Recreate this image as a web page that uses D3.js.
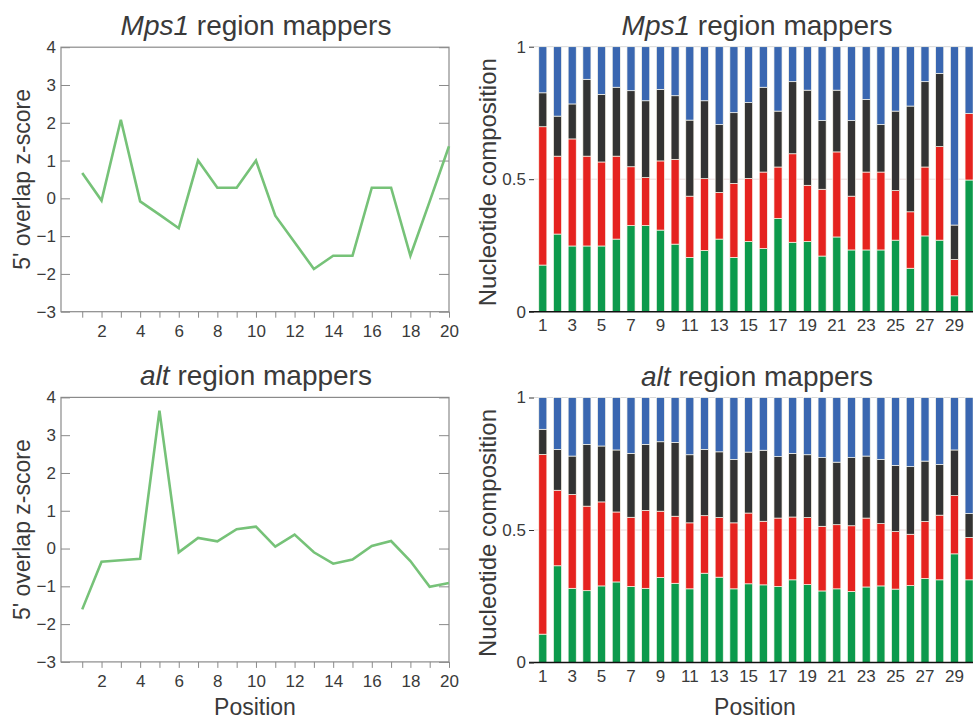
<!DOCTYPE html>
<html>
<head>
<meta charset="utf-8">
<script src="https://cdn.jsdelivr.net/npm/d3@7"></script>
<style>
  html, body { margin: 0; padding: 0; background: #fff; overflow: hidden; }
  svg text { font-family: "Liberation Sans", Arial, sans-serif; fill: #3a3a3a; }
</style>
</head>
<body>
<div id="d3Container"></div>
<script>
// positions along the read (line charts)
const linePositions = [1, 2, 3, 4, 5, 6, 7, 8, 9, 10, 11, 12, 13, 14, 15, 16, 17, 18, 19, 20]
const mps1Zscore = [0.67, -0.06, 2.08, -0.08, -0.43, -0.79, 1.0, 0.28, 0.28, 1.0, -0.46, -1.16, -1.87, -1.52, -1.52, 0.28, 0.28, -1.52, -0.08, 1.38]
const altZscore = [-1.61, -0.35, -0.31, -0.27, 3.65, -0.10, 0.28, 0.19, 0.51, 0.58, 0.05, 0.37, -0.10, -0.40, -0.29, 0.07, 0.20, -0.33, -1.01, -0.91]
const zTicks = [-3, -2, -1, 0, 1, 2, 3, 4]

// positions for nucleotide composition bars
const barPositions = [1, 2, 3, 4, 5, 6, 7, 8, 9, 10, 11, 12, 13, 14, 15, 16, 17, 18, 19, 20, 21, 22, 23, 24, 25, 26, 27, 28, 29, 30]
const barLabels = [1, 3, 5, 7, 9, 11, 13, 15, 17, 19, 21, 23, 25, 27, 29]
const compTicks = [0, 0.5, 1]
const nucleotides = ['A', 'U', 'G', 'C']
const nucColors = {A: '#0c9a4c', U: '#e5231f', G: '#333333', C: '#3a67b1'}

// Mps1 region mappers, fraction of each nucleotide
const mps1A = [.176, .293, .248, .248, .248, .274, .325, .325, .308, .255, .205, .231, .274, .205, .265, .238, .352, .262, .265, .210, .282, .233, .233, .233, .270, .164, .286, .270, .060, .497]
const mps1U = [.522, .294, .404, .339, .317, .313, .222, .181, .261, .320, .231, .271, .176, .279, .238, .289, .194, .334, .212, .252, .321, .203, .294, .294, .187, .213, .260, .353, .137, .251]
const mps1G = [.128, .151, .132, .290, .255, .260, .287, .290, .270, .240, .287, .294, .256, .267, .286, .320, .211, .272, .359, .259, .233, .285, .274, .179, .300, .399, .322, .276, .130, .000]
const mps1C = [.174, .262, .216, .123, .180, .153, .166, .204, .161, .185, .277, .204, .294, .249, .211, .153, .243, .132, .164, .279, .164, .279, .199, .294, .243, .224, .132, .101, .673, .252]

// alt region mappers
const altA = [.107, .365, .280, .271, .289, .304, .287, .280, .321, .299, .278, .337, .322, .278, .297, .293, .287, .312, .294, .270, .278, .268, .285, .289, .277, .290, .317, .312, .410, .312]
const altU = [.678, .285, .354, .319, .317, .264, .261, .294, .250, .253, .249, .217, .225, .249, .267, .240, .258, .237, .253, .244, .242, .248, .260, .235, .217, .194, .215, .244, .220, .160]
const altG = [.095, .154, .145, .233, .211, .234, .241, .249, .262, .278, .257, .250, .248, .239, .230, .268, .232, .240, .237, .259, .236, .257, .234, .242, .250, .255, .228, .191, .172, .090]
const altC = [.120, .196, .221, .177, .183, .198, .211, .177, .167, .170, .216, .196, .205, .234, .206, .199, .223, .211, .216, .227, .244, .227, .221, .234, .256, .261, .240, .253, .198, .438]

const width = 973
const height = 719
const TICK_FONT = 17
const LABEL_FONT = 23
const TITLE_FONT = 28

const svg = d3.select('#d3Container')
  .append('svg')
  .attr('width', width)
  .attr('height', height)

function addTitle (g, x, y, italic, rest) {
  const t = g.append('text')
    .attr('x', x).attr('y', y)
    .attr('text-anchor', 'middle')
    .attr('font-size', TITLE_FONT)
  t.append('tspan').attr('font-style', 'italic').text(italic)
  t.append('tspan').text(rest)
}

function drawLineChart (top, values, italic, showXLabel) {
  const left = 61
  const right = 449
  const bottom = top + 264.5
  const x = d3.scaleLinear().domain([-0.1, 20]).range([left, right])
  const y = d3.scaleLinear().domain([-3, 4]).range([bottom, top])
  const g = svg.append('g')

  g.append('rect')
    .attr('x', left).attr('y', top)
    .attr('width', right - left).attr('height', bottom - top)
    .attr('fill', 'none').attr('stroke', '#8a8a8a').attr('stroke-width', 1.2)

  g.append('g')
    .attr('transform', `translate(${left},0)`)
    .call(d3.axisLeft(y).tickValues(zTicks).tickSize(-9).tickPadding(5).tickFormat(d3.format('d')))
    .call(sel => {
      sel.select('.domain').remove()
      sel.selectAll('line').attr('stroke', '#8a8a8a')
      sel.selectAll('text').attr('font-size', TICK_FONT).attr('font-family', null).attr('fill', null)
    })

  g.append('g')
    .attr('transform', `translate(${right},0)`)
    .call(d3.axisRight(y).tickValues(zTicks).tickSize(-10).tickFormat(''))
    .call(sel => {
      sel.select('.domain').remove()
      sel.selectAll('line').attr('stroke', '#8a8a8a')
    })

  g.append('g')
    .attr('transform', `translate(0,${bottom})`)
    .call(d3.axisBottom(x).tickValues(linePositions).tickSize(6).tickPadding(7)
      .tickFormat(d => d % 2 === 0 ? d : ''))
    .call(sel => {
      sel.select('.domain').remove()
      sel.selectAll('line').attr('stroke', '#8a8a8a')
      sel.selectAll('text').attr('font-size', TICK_FONT).attr('font-family', null).attr('fill', null)
    })

  const line = d3.line()
    .x((d, i) => x(linePositions[i]))
    .y(d => y(d))

  g.append('path')
    .attr('d', line(values))
    .attr('fill', 'none')
    .attr('stroke', '#76c278')
    .attr('stroke-width', 2.6)
    .attr('stroke-linejoin', 'miter')

  g.append('text')
    .attr('transform', `translate(30,${(top + bottom) / 2}) rotate(-90)`)
    .attr('text-anchor', 'middle')
    .attr('font-size', LABEL_FONT)
    .text("5' overlap z-score")

  addTitle(g, 256, top - 12, italic, ' region mappers')

  if (showXLabel) {
    g.append('text')
      .attr('x', 255).attr('y', 715)
      .attr('text-anchor', 'middle')
      .attr('font-size', LABEL_FONT)
      .text('Position')
  }
}

function drawBarChart (top, A, U, G, C, italic, showXLabel) {
  const bottom = top + 265
  const x = d3.scaleBand()
    .domain(barPositions)
    .range([535.45, 976.45])
    .paddingInner(0.45)
    .paddingOuter(0.225)
  const y = d3.scaleLinear().domain([0, 1]).range([bottom, top])
  const g = svg.append('g')

  const rows = barPositions.map((p, i) => ({pos: p, A: A[i], U: U[i], G: G[i], C: C[i]}))
  const stacked = d3.stack().keys(nucleotides)(rows)

  g.selectAll('line.grid')
    .data([0.5, 1])
    .enter()
    .append('line')
    .attr('class', 'grid')
    .attr('x1', 534).attr('x2', width)
    .attr('y1', d => y(d)).attr('y2', d => y(d))
    .attr('stroke', d => d === 1 ? '#d8d8d8' : '#ecdcdc')

  g.selectAll('g.layer')
    .data(stacked)
    .enter()
    .append('g')
    .attr('class', 'layer')
    .attr('fill', d => nucColors[d.key])
    .selectAll('rect')
    .data(d => d)
    .enter()
    .append('rect')
    .attr('x', d => x(d.data.pos))
    .attr('width', x.bandwidth())
    .attr('y', d => y(d[1]))
    .attr('height', d => Math.max(0, y(d[0]) - y(d[1])))
    .attr('stroke', '#fbf8ec')
    .attr('stroke-width', 0.7)

  g.append('line')
    .attr('x1', 529).attr('x2', width)
    .attr('y1', bottom).attr('y2', bottom)
    .attr('stroke', '#111').attr('stroke-width', 1.5)

  g.append('g')
    .attr('transform', `translate(534,0)`)
    .call(d3.axisLeft(y).tickValues(compTicks).tickSize(5).tickPadding(3)
      .tickFormat(d => d === 0.5 ? '0.5' : d3.format('d')(d)))
    .call(sel => {
      sel.select('.domain').remove()
      sel.selectAll('line').attr('stroke', '#333')
      sel.selectAll('text').attr('font-size', TICK_FONT).attr('font-family', null).attr('fill', null)
    })

  g.append('g')
    .attr('transform', `translate(0,${bottom})`)
    .call(d3.axisBottom(x).tickValues(barLabels).tickSize(0).tickPadding(7))
    .call(sel => {
      sel.select('.domain').remove()
      sel.selectAll('text').attr('font-size', TICK_FONT).attr('font-family', null).attr('fill', null)
    })

  g.append('text')
    .attr('transform', `translate(496,${(top + bottom) / 2 + 3}) rotate(-90)`)
    .attr('text-anchor', 'middle')
    .attr('font-size', 24)
    .text('Nucleotide composition')

  addTitle(g, 757, top - 12, italic, ' region mappers')

  if (showXLabel) {
    g.append('text')
      .attr('x', 755).attr('y', 715)
      .attr('text-anchor', 'middle')
      .attr('font-size', LABEL_FONT)
      .text('Position')
  }
}

drawLineChart(47.2, mps1Zscore, 'Mps1', false)
drawLineChart(397.4, altZscore, 'alt', true)
drawBarChart(46.7, mps1A, mps1U, mps1G, mps1C, 'Mps1', false)
drawBarChart(397.5, altA, altU, altG, altC, 'alt', true)
</script>
</body>
</html>
